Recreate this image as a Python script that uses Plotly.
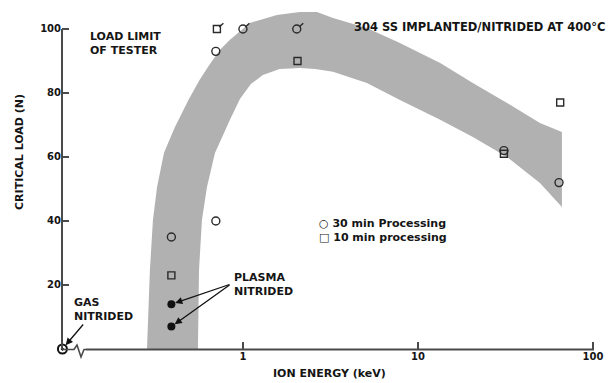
import numpy as np
import plotly.graph_objects as go

# ---------------- data ----------------
# 30 min processing (open circles)
circle_x = [0.39, 0.70, 0.70, 1.0, 2.03, 31.0, 64.0]
circle_y = [35, 40, 93, 100, 100, 62, 52]
# 10 min processing (open squares)
square_x = [0.39, 0.71, 2.05, 31.0, 65.0]
square_y = [23, 100, 90, 61, 77]
# plasma nitrided (filled circles)
plasma_x = [0.39, 0.39]
plasma_y = [14, 7]
# gas nitrided (at zero ion energy, drawn at the axis origin)
gas_x = [0.093]
gas_y = [0]
# points at the load limit of the tester (flagged)
limit_x = [0.71, 1.0, 2.03]
limit_y = [100, 100, 100]

# shaded scatter band: outer (upper/left) edge, then inner (lower/right) edge
band_outer_x = [0.283, 0.294, 0.306, 0.323, 0.354, 0.407, 0.488, 0.566, 0.631,
                0.737, 0.843, 1.096, 1.564, 2.117, 2.65, 3.27, 5.11, 7.89, 13.4,
                20.6, 32.3, 49.8, 66.5]
band_outer_y = [0, 24.7, 40.3, 50.6, 61.3, 69.1, 77.8, 84.1, 88.1,
                93.4, 96.6, 101.9, 104.4, 105.3, 105.3, 103.4, 100.3, 95.6, 89.4,
                83.1, 76.9, 70.6, 67.8]
band_inner_x = [66.5, 49.8, 32.3, 20.6, 13.4, 7.89, 5.11, 3.27, 2.59, 2.117,
                1.62, 1.30, 1.11, 0.961, 0.843, 0.692, 0.623, 0.583, 0.561, 0.553]
band_inner_y = [44.4, 51.9, 60.0, 66.25, 71.6, 77.8, 83.1, 86.6, 87.5, 87.8,
                87.5, 85.6, 82.8, 78.1, 71.6, 61.25, 50.6, 40.3, 24.7, 0]

x_tickvals = [1, 10, 100]
x_ticktext = ["1", "10", "100"]
y_tickvals = [20, 40, 60, 80, 100]
y_ticktext = ["20", "40", "60", "80", "100"]

# ---------------- layout geometry ----------------
W, H = 613, 383
L, R, T, B = 62, 15, 4, 34
PW, PH = W - L - R, H - T - B
XR = [-1.034, 2.029]
YR = [0, 107.8]
FONT = "DejaVu Sans"
INK = "#151515"
AX = "#4a4a4a"


def px(xp):
    return (xp - L) / PW


def py(yp):
    return (H - B - yp) / PH


fig = go.Figure()

band_x = band_outer_x + band_inner_x
band_y = band_outer_y + band_inner_y
fig.add_trace(go.Scatter(x=band_x, y=band_y, fill="toself", mode="lines",
                         line=dict(width=0), fillcolor="#b1b1b1",
                         hoverinfo="skip", showlegend=False))

fig.add_trace(go.Scatter(x=square_x, y=square_y, mode="markers", name="10 min processing",
                         marker=dict(symbol="square-open", size=7, color="#2a2a2a",
                                     line=dict(width=1.4)),
                         cliponaxis=False, showlegend=False))
fig.add_trace(go.Scatter(x=circle_x, y=circle_y, mode="markers", name="30 min Processing",
                         marker=dict(symbol="circle-open", size=8, color="#2a2a2a",
                                     line=dict(width=1.4)),
                         cliponaxis=False, showlegend=False))
fig.add_trace(go.Scatter(x=plasma_x, y=plasma_y, mode="markers", name="Plasma nitrided",
                         marker=dict(symbol="circle", size=8, color="#111111"),
                         cliponaxis=False, showlegend=False))
fig.add_trace(go.Scatter(x=gas_x, y=gas_y, mode="markers", name="Gas nitrided",
                         marker=dict(symbol="circle-open-dot", size=9, color="#111111",
                                     line=dict(width=2)),
                         cliponaxis=False, showlegend=False))

# axis lines (y axis only up to 100; broken x axis)
fig.add_shape(type="line", xref="paper", yref="y", x0=0, x1=0, y0=0, y1=100,
              line=dict(color=AX, width=2))
fig.add_shape(type="line", xref="paper", yref="paper", x0=px(86), x1=px(594),
              y0=py(349.5), y1=py(349.5), line=dict(color=AX, width=2))
squig = [(62, 349.5), (74, 349.5), (77, 345), (81, 357), (84, 349.5), (86, 349.5)]
path = "M " + " L ".join(f"{px(a):.5f},{py(b):.5f}" for a, b in squig)
fig.add_shape(type="path", xref="paper", yref="paper", path=path,
              line=dict(color=AX, width=1.6))

anns = []
# flags on load-limit points
for xv, yv in zip(limit_x, limit_y):
    anns.append(dict(x=np.log10(xv), y=yv, xref="x", yref="y", text="", showarrow=True,
                     arrowhead=0, ax=8, ay=-7, standoff=3, arrowwidth=1.4,
                     arrowcolor="#2a2a2a"))
# plasma nitrided arrows
for xv, yv in zip(plasma_x, plasma_y):
    pxp = L + (np.log10(xv) - XR[0]) / (XR[1] - XR[0]) * PW
    pyp = H - B - (yv - YR[0]) / (YR[1] - YR[0]) * PH
    anns.append(dict(x=np.log10(xv), y=yv, xref="x", yref="y", text="", showarrow=True,
                     arrowhead=2, arrowsize=1.1, arrowwidth=1.3, arrowcolor="#111111",
                     ax=231 - pxp, ay=284 - pyp, standoff=4))
# gas nitrided arrow
anns.append(dict(x=np.log10(gas_x[0]), y=gas_y[0], xref="x", yref="y", text="",
                 showarrow=True, arrowhead=2, arrowsize=1.1, arrowwidth=1.3,
                 arrowcolor="#111111", ax=22, ay=-26, standoff=5))

tf = dict(family=FONT, size=11, color=INK, weight="bold")
texts = [
    ("LOAD LIMIT<br>OF TESTER", 88, 43, "left"),
    ("304 SS IMPLANTED/NITRIDED AT 400°C", 607, 27, "right"),
    ("○ 30 min Processing", 317, 223, "left"),
    ("□ 10 min processing", 317, 237, "left"),
    ("PLASMA<br>NITRIDED", 232, 284, "left"),
    ("GAS<br>NITRIDED", 72, 309, "left"),
    ("ION ENERGY (keV)", 329, 373, "center"),
]
for t, xp_, yp_, anc in texts:
    f = dict(tf)
    if t.startswith("304"):
        f["size"] = 11.5
    anns.append(dict(text=t, x=px(xp_), y=py(yp_), xref="paper", yref="paper",
                     xanchor=anc, yanchor="middle", showarrow=False, align="left",
                     font=f))
anns.append(dict(text="CRITICAL LOAD (N)", x=px(19), y=py(152), xref="paper",
                 yref="paper", xanchor="center", yanchor="middle", showarrow=False,
                 textangle=-90, font=tf))

fig.update_layout(
    width=W, height=H, autosize=False,
    margin=dict(l=L, r=R, t=T, b=B),
    paper_bgcolor="white", plot_bgcolor="white",
    showlegend=False,
    hovermode=False,
    annotations=anns,
    xaxis=dict(type="log", range=XR, showgrid=False, zeroline=False,
               showline=False, ticks="inside", ticklen=7, tickwidth=1.5, tickcolor=AX,
               tickvals=x_tickvals, ticktext=x_ticktext,
               tickfont=dict(family=FONT, size=10, color=INK, weight="bold")),
    yaxis=dict(range=YR, showgrid=False, zeroline=False, showline=False,
               ticks="inside", ticklen=7, tickwidth=1.5, tickcolor=AX,
               tickvals=y_tickvals, ticktext=y_ticktext,
               tickfont=dict(family=FONT, size=10, color=INK, weight="bold")),
)

fig.write_html("out.html",
               config={"displayModeBar": False, "staticPlot": True},
               post_script="document.body.style.margin='0';"
                           "document.body.style.overflow='hidden';")
